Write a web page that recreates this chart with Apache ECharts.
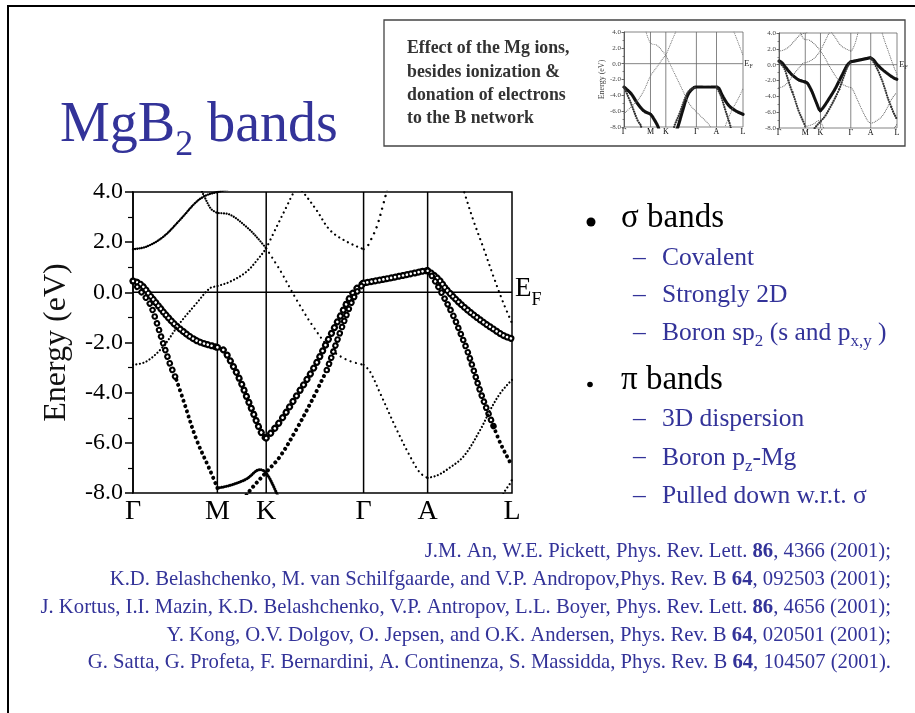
<!DOCTYPE html>
<html>
<head>
<meta charset="utf-8">
<title>MgB2 bands</title>
<script src="https://cdn.jsdelivr.net/npm/echarts@6/dist/echarts.min.js"></script>
<style>
  html, body { margin: 0; padding: 0; background: #fff; }
  #chart { width: 915px; height: 713px; }
</style>
</head>
<body>
<div id="chart"></div>
<script>
// high symmetry points along the k-path
const kTicks = [0, 0.577, 0.911, 1.577, 2.015, 2.592];
const kNames = ['Γ', 'M', 'K', 'Γ', 'A', 'L'];
const eMin = -8, eMax = 4, eStep = 2;

// ---- MgB2 bands (main plot and right inset), [k, E in eV] ----
// sigma bands, heavy branch (open circles)
const sigHeavyGM = [[0, 0.45], [0.023, 0.42], [0.069, 0.23], [0.114, -0.11], [0.160, -0.44], [0.206, -0.77], [0.251, -1.07], [0.297, -1.34], [0.343, -1.56], [0.388, -1.76], [0.434, -1.92], [0.480, -2.03], [0.525, -2.11], [0.577, -2.19]];
const sigHeavyMK = [[0.577, -2.19], [0.617, -2.29], [0.662, -2.69], [0.731, -3.49], [0.776, -4.15], [0.822, -4.81], [0.868, -5.48], [0.895, -5.75], [0.911, -5.81]];
const sigHeavyKG = [[0.911, -5.81], [0.930, -5.70], [1.005, -5.15], [1.119, -4.12], [1.233, -3.05], [1.347, -1.75], [1.416, -0.97], [1.484, -0.20], [1.530, 0.15], [1.577, 0.37]];
const sigGA = [[1.577, 0.37], [1.690, 0.49], [1.804, 0.62], [1.918, 0.76], [1.990, 0.85], [2.015, 0.86]];
const sigHeavyAL = [[2.015, 0.86], [2.055, 0.70], [2.100, 0.45], [2.147, 0.09], [2.261, -0.57], [2.375, -1.10], [2.489, -1.56], [2.540, -1.74], [2.592, -1.85]];
// sigma bands, light branch
const sigLightGMc = [[0, 0.45], [0.046, 0.09], [0.114, -0.44], [0.160, -1.17], [0.206, -2.03], [0.251, -2.82], [0.297, -3.49]];
const sigLightGMd = [[0.297, -3.49], [0.343, -4.28], [0.434, -5.87], [0.525, -7.07], [0.577, -7.80]];
const sigLightMK = [[0.577, -7.80], [0.662, -7.70], [0.776, -7.44], [0.868, -7.07], [0.911, -7.20], [0.982, -8.0], [1.000, -8.3]];
const sigLightKGd = [[0.760, -8.3], [0.786, -8.0], [0.911, -7.17], [1.005, -6.55], [1.119, -5.45], [1.233, -4.20], [1.325, -3.10]];
const sigLightKGc = [[1.325, -3.10], [1.347, -2.75], [1.416, -1.60], [1.484, -0.55], [1.530, 0.0], [1.577, 0.36]];
const sigLightALc = [[2.015, 0.86], [2.050, 0.60], [2.124, -0.17], [2.192, -0.95], [2.227, -1.45], [2.284, -2.29], [2.329, -3.09], [2.375, -3.95], [2.421, -4.68], [2.466, -5.34]];
const sigLightALd = [[2.466, -5.34], [2.512, -6.01], [2.581, -6.80], [2.592, -6.93]];
// pi bands (small dots)
const piUpperGM = [[0, 1.72], [0.091, 1.82], [0.206, 2.21], [0.320, 2.88], [0.434, 3.61], [0.502, 3.87], [0.577, 4.0], [0.650, 4.1]];
const piUpperMK = [[0.440, 4.4], [0.484, 3.87], [0.530, 3.35], [0.560, 3.21], [0.577, 3.17], [0.662, 3.10], [0.776, 2.61], [0.845, 2.21], [0.911, 1.75]];
const piBondGK = [[0, -2.89], [0.091, -2.76], [0.206, -2.16], [0.320, -1.23], [0.434, -0.44], [0.525, 0.16], [0.577, 0.25], [0.662, 0.42], [0.776, 0.82], [0.868, 1.42], [0.911, 1.75]];
const piKGdown = [[0.911, 1.75], [1.005, 0.89], [1.119, -0.30], [1.233, -1.37], [1.347, -2.23], [1.462, -2.69], [1.577, -2.89]];
const piKGup = [[0.911, 1.75], [0.982, 2.61], [1.050, 3.41], [1.096, 3.95], [1.130, 4.2], [1.165, 3.98], [1.256, 3.27], [1.347, 2.48], [1.462, 2.02], [1.577, 1.72]];
const piGAup = [[1.577, 1.72], [1.599, 1.80], [1.621, 2.02], [1.667, 2.61], [1.713, 3.54], [1.731, 3.94], [1.745, 4.3]];
const piGAlow = [[1.577, -2.89], [1.620, -3.15], [1.690, -4.02], [1.804, -5.48], [1.895, -6.54], [1.964, -7.20], [2.015, -7.40]];
const piALlow = [[2.015, -7.40], [2.080, -7.30], [2.147, -7.07], [2.261, -6.54], [2.375, -5.48], [2.444, -4.68], [2.512, -4.02], [2.581, -3.55], [2.592, -3.49]];
const piALtop = [[2.255, 4.2], [2.272, 3.87], [2.329, 2.85], [2.398, 1.75], [2.466, 0.62], [2.535, -0.45], [2.592, -1.23]];
const piLbottom = [[2.525, -8.2], [2.535, -8.0], [2.581, -7.60], [2.592, -7.47]];

// ---- B network without Mg (left inset) ----
const bSigHeavy1 = [[0, -2.95], [0.155, -3.79], [0.296, -5.05], [0.436, -5.98], [0.577, -6.40], [0.647, -6.95], [0.730, -7.8], [0.760, -8.3]];
const bSigHeavy2 = [[1.150, -8.3], [1.173, -8.0], [1.279, -5.9], [1.386, -4.0], [1.492, -3.16], [1.577, -2.95], [2.015, -2.95], [2.071, -3.16], [2.140, -4.0], [2.279, -5.26], [2.418, -5.9], [2.592, -6.4]];
const bSigLight1 = [[0, -2.95], [0.155, -5.05], [0.296, -7.16], [0.366, -7.8], [0.380, -8.3]];
const bSigLight2 = [[1.080, -8.3], [1.102, -7.8], [1.209, -6.3], [1.315, -4.6], [1.421, -3.4], [1.577, -2.95]];
const bSigLight3 = [[2.015, -2.95], [2.105, -4.0], [2.210, -5.9], [2.314, -7.8], [2.330, -8.3]];
const bPi1 = [[0.472, 4.2], [0.577, 2.61], [0.716, 2.32], [0.855, 1.47], [0.911, 1.05]];
const bPi2 = [[0, -6.3], [0.296, -4.63], [0.436, -3.37], [0.577, -1.56], [0.716, -0.42], [0.855, 0.72], [0.911, 1.05]];
const bPi3 = [[0.911, 1.05], [1.032, 2.74], [1.140, 4.2]];
const bPi4 = [[0.911, 1.05], [1.138, -1.68], [1.279, -3.37], [1.421, -5.05], [1.577, -6.1], [1.691, -6.74], [1.866, -7.8], [1.900, -8.3]];
const bPi5 = [[2.210, -7.8], [2.349, -5.9], [2.488, -4.42], [2.592, -3.16]];
const bPi6 = [[2.384, 4.2], [2.453, 3.16], [2.592, 1.05]];

const SERIF = '"Liberation Serif", "Times New Roman", "DejaVu Serif", serif';
const BLUE = '#333399';

const chart = echarts.init(document.getElementById('chart'));

// a band drawn as a row of round dots
function dots(data, grid, size, gap, color) {
  return {
    type: 'line', xAxisIndex: grid, yAxisIndex: grid, data: data,
    smooth: 0.35, showSymbol: false, silent: true, animation: false, clip: true,
    lineStyle: { color: color || '#000', width: size, type: [0.01, gap], cap: 'round' }
  };
}
// open circles: black dots with a white dot on top
function rings(data, grid, size, gap) {
  return [dots(data, grid, size, gap), dots(data, grid, size * 0.38, gap, '#fff')];
}
function plain(data, grid, width, color) {
  return {
    type: 'line', xAxisIndex: grid, yAxisIndex: grid, data: data,
    showSymbol: false, silent: true, animation: false, clip: true,
    lineStyle: { color: color, width: width }
  };
}
function frameLines(grid, width, color) {
  const out = [];
  kTicks.slice(1, -1).forEach(k => out.push(plain([[k, eMin], [k, eMax]], grid, width, color)));
  out.push(plain([[kTicks[0], 0], [kTicks[kTicks.length - 1], 0]], grid, width, color));
  return out;
}
function kLabel(v) {
  let best = 0;
  kTicks.forEach((k, i) => { if (Math.abs(k - v) < Math.abs(kTicks[best] - v)) best = i; });
  return kNames[best];
}

function xAxisFor(grid, fontSize, margin) {
  return {
    gridIndex: grid, type: 'value', min: kTicks[0], max: kTicks[kTicks.length - 1],
    axisLine: { show: false }, axisTick: { show: false }, splitLine: { show: false },
    axisLabel: { customValues: kTicks, formatter: kLabel, fontSize: fontSize, fontFamily: SERIF, color: '#000', margin: margin }
  };
}
function yAxisFor(grid, fontSize, tick, minor, margin, color, lw) {
  return {
    gridIndex: grid, type: 'value', min: eMin, max: eMax, interval: eStep,
    axisLine: { show: true, lineStyle: { color: color, width: lw } },
    axisTick: { show: true, inside: false, length: tick, lineStyle: { color: color, width: lw } },
    minorTick: { show: true, splitNumber: 2, length: minor, lineStyle: { color: color, width: lw * 0.8 } },
    splitLine: { show: false },
    axisLabel: { formatter: v => v.toFixed(1), fontSize: fontSize, fontFamily: SERIF, color: color, margin: margin }
  };
}

const series = [].concat(
  frameLines(0, 1.5, '#000'),
  rings(sigHeavyGM, 0, 7, 4),
  rings(sigHeavyMK, 0, 7, 6.5),
  rings(sigHeavyKG, 0, 7, 6.5),
  rings(sigGA, 0, 7, 4),
  rings(sigHeavyAL, 0, 7, 4),
  rings(sigLightGMc, 0, 6.5, 7),
  [dots(sigLightGMd, 0, 4, 5.5)],
  [dots(sigLightMK, 0, 3, 2.2)],
  [dots(sigLightKGd, 0, 4, 5.5)],
  rings(sigLightKGc, 0, 6.5, 6.5),
  rings(sigLightALc, 0, 6.5, 6.5),
  [dots(sigLightALd, 0, 4, 5.5)],
  [
    dots(piUpperGM, 0, 2.4, 2.2), dots(piUpperMK, 0, 2.2, 2.6), dots(piBondGK, 0, 2.2, 3.5),
    dots(piKGdown, 0, 2.2, 5.5), dots(piKGup, 0, 2.2, 5), dots(piGAup, 0, 2.4, 6.5),
    dots(piGAlow, 0, 2.2, 5), dots(piALlow, 0, 2.2, 3.5), dots(piALtop, 0, 2.2, 5.5),
    dots(piLbottom, 0, 2.2, 4)
  ]
);

// left inset: boron network
series.push(...frameLines(1, 0.8, '#666'));
[bSigHeavy1, bSigHeavy2].forEach(d => series.push(dots(d, 1, 3.2, 1.2, '#111')));
[bSigLight1, bSigLight2, bSigLight3].forEach(d => series.push(dots(d, 1, 2.2, 2.4, '#333')));
[bPi1, bPi2, bPi3, bPi4, bPi5, bPi6].forEach(d => series.push(dots(d, 1, 1.1, 1.8, '#777')));

// right inset: MgB2, same bands as the main plot
series.push(...frameLines(2, 0.8, '#666'));
[sigHeavyGM, sigHeavyMK, sigHeavyKG, sigGA, sigHeavyAL].forEach(d => series.push(dots(d, 2, 3.2, 1.2, '#111')));
[sigLightGMc, sigLightGMd, sigLightKGd, sigLightKGc, sigLightALc, sigLightALd].forEach(d => series.push(dots(d, 2, 2.2, 2.4, '#333')));
[sigLightMK, piUpperGM, piUpperMK, piBondGK, piKGdown, piKGup, piGAup, piGAlow, piALlow, piALtop, piLbottom]
  .forEach(d => series.push(dots(d, 2, 1.1, 1.8, '#666')));

function txt(x, y, text, size, color, extra) {
  return {
    type: 'text', x: x, y: y, silent: true,
    style: Object.assign({ text: text, fontSize: size, fontFamily: SERIF, fill: color, verticalAlign: 'middle' }, extra || {})
  };
}
// text with subscripts: main tokens top aligned, sub tokens pushed down by padding
function subText(x, y, text, size, subSize, drop, color) {
  const pad = 0.8 * (size - subSize) + drop;
  return {
    type: 'text', x: x, y: y, silent: true,
    style: {
      text: text, verticalAlign: 'top', fill: color,
      rich: {
        a: { fontSize: size, fontFamily: SERIF, fill: color, verticalAlign: 'top' },
        s: { fontSize: subSize, fontFamily: SERIF, fill: color, verticalAlign: 'top', padding: [pad, 0, 0, 0] }
      }
    }
  };
}

const refs = [
  'J.M. An, W.E. Pickett, Phys. Rev. Lett. {b|86}, 4366 (2001);',
  'K.D. Belashchenko, M. van Schilfgaarde, and V.P. Andropov,Phys. Rev. B {b|64}, 092503 (2001);',
  'J. Kortus, I.I. Mazin, K.D. Belashchenko, V.P. Antropov, L.L. Boyer, Phys. Rev. Lett. {b|86}, 4656 (2001);',
  'Y. Kong, O.V. Dolgov, O. Jepsen, and O.K. Andersen, Phys. Rev. B {b|64}, 020501 (2001);',
  'G. Satta, G. Profeta, F. Bernardini, A. Continenza, S. Massidda, Phys. Rev. B {b|64}, 104507 (2001).'
];
const refY = [551.5, 579.5, 607.5, 635.5, 663];
const REF_SIZE = 20.7;
const SUB_SIZE = 25.5;

const graphics = [
  { type: 'rect', silent: true, shape: { x: 8, y: 6, width: 1000, height: 1000 }, style: { fill: 'none', stroke: '#000', lineWidth: 2 } },
  { type: 'rect', silent: true, shape: { x: 384, y: 20, width: 521, height: 126 }, style: { fill: 'none', stroke: '#444', lineWidth: 1.3 } },
  subText(60, 98, '{a|MgB}{s|2}{a| bands}', 56, 36, 14, BLUE),
  {
    type: 'text', x: 407, y: 37, silent: true,
    style: {
      text: 'Effect of the Mg ions,\nbesides ionization &\ndonation of electrons\nto the B network',
      fontSize: 17.8, fontWeight: 'bold', fontFamily: SERIF, fill: '#333', lineHeight: 23.3, verticalAlign: 'top'
    }
  },
  subText(515, 275.5, '{a|E}{s|F}', 27, 18, 9, '#000'),
  subText(744, 59.5, '{a|E}{s|F}', 9, 6, 2, '#333'),
  subText(899, 60.5, '{a|E}{s|F}', 9, 6, 2, '#333'),
  { type: 'circle', silent: true, shape: { cx: 591, cy: 222, r: 4.5 }, style: { fill: '#000' } },
  { type: 'circle', silent: true, shape: { cx: 590, cy: 384.5, r: 2.8 }, style: { fill: '#000' } },
  txt(621, 218, 'σ bands', 33, '#000'),
  txt(621, 380, 'π bands', 33, '#000'),
  txt(633, 258, '–', SUB_SIZE, BLUE), txt(662, 258, 'Covalent', SUB_SIZE, BLUE),
  txt(633, 295.5, '–', SUB_SIZE, BLUE), txt(662, 295.5, 'Strongly 2D', SUB_SIZE, BLUE),
  txt(633, 333, '–', SUB_SIZE, BLUE), subText(662, 320.5, '{a|Boron sp}{s|2}{a| (s and p}{s|x,y}{a| )}', SUB_SIZE, 17, 6, BLUE),
  txt(633, 419.5, '–', SUB_SIZE, BLUE), txt(662, 419.5, '3D dispersion', SUB_SIZE, BLUE),
  txt(633, 457.5, '–', SUB_SIZE, BLUE), subText(662, 445.5, '{a|Boron p}{s|z}{a|-Mg}', SUB_SIZE, 17, 6, BLUE),
  txt(633, 496, '–', SUB_SIZE, BLUE), txt(662, 496, 'Pulled down w.r.t. σ', SUB_SIZE, BLUE)
];
refs.forEach((r, i) => graphics.push(txt(891, refY[i], r, REF_SIZE, BLUE, {
  align: 'right', rich: { b: { fontSize: REF_SIZE, fontFamily: SERIF, fill: BLUE, fontWeight: 'bold' } }
})));

const option = {
  animation: false,
  backgroundColor: '#fff',
  grid: [
    { left: 133, top: 192, width: 379, height: 301, show: true, borderColor: '#000', borderWidth: 1.5, backgroundColor: 'transparent' },
    { left: 624, top: 32, width: 119, height: 95, show: true, borderColor: '#666', borderWidth: 0.8, backgroundColor: 'transparent' },
    { left: 779, top: 33, width: 118, height: 95, show: true, borderColor: '#666', borderWidth: 0.8, backgroundColor: 'transparent' }
  ],
  xAxis: [xAxisFor(0, 28, 5), xAxisFor(1, 8, 1), xAxisFor(2, 8, 1)],
  yAxis: [
    Object.assign(yAxisFor(0, 24, 8, 5, 10, '#000', 1.5), {
      name: 'Energy (eV)', nameLocation: 'middle', nameGap: 60,
      nameTextStyle: { fontSize: 32, fontFamily: SERIF, color: '#111' }
    }),
    Object.assign(yAxisFor(1, 7, 2.5, 1.5, 3, '#444', 0.8), {
      name: 'Energy (eV)', nameLocation: 'middle', nameGap: 17,
      nameTextStyle: { fontSize: 8, fontFamily: SERIF, color: '#444' }
    }),
    yAxisFor(2, 7, 2.5, 1.5, 3, '#444', 0.8)
  ],
  series: series,
  graphic: graphics
};
chart.setOption(option);
</script>
</body>
</html>
